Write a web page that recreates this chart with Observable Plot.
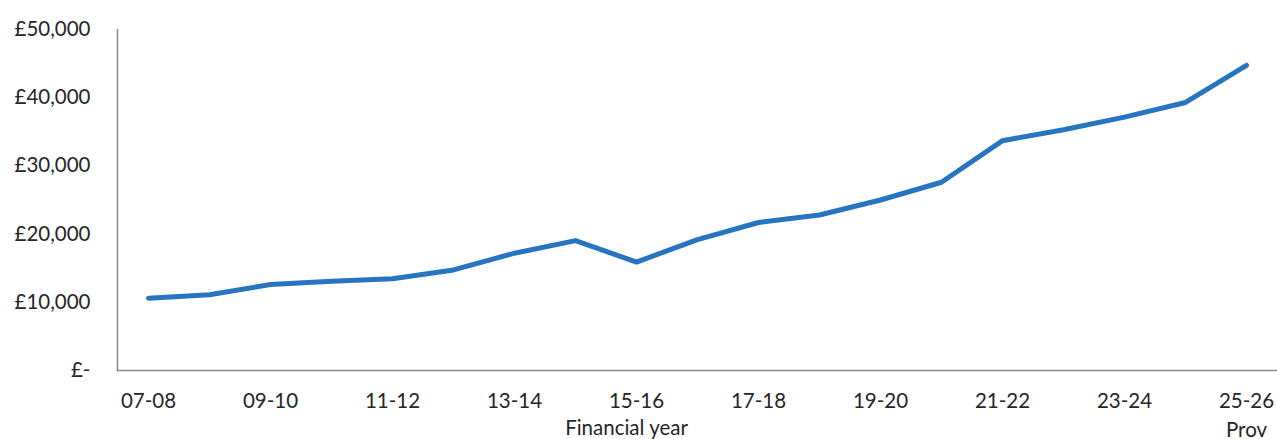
<!DOCTYPE html>
<html>
<head>
<meta charset="utf-8">
<script src="https://cdn.jsdelivr.net/npm/d3@7"></script>
<script src="https://cdn.jsdelivr.net/npm/@observablehq/plot@0.6"></script>
<style>
  body { margin: 0; background: #fff; }
</style>
</head>
<body>
<div id="chart"></div>
<script>
// Financial years and average value per year (£)
const years = ["07-08", "08-09", "09-10", "10-11", "11-12", "12-13", "13-14", "14-15", "15-16", "16-17",
               "17-18", "18-19", "19-20", "20-21", "21-22", "22-23", "23-24", "24-25", "25-26"];
const values = [10600, 11100, 12600, 13100, 13450, 14750, 17200, 19050, 15900, 19200,
                21700, 22800, 25000, 27600, 33700, 35300, 37150, 39300, 44750];

// Axis ticks and labels
const yTicks = [0, 10000, 20000, 30000, 40000, 50000];
const xTickYears = years.filter((d, i) => i % 2 === 0);
const provisionalYear = "25-26";
const provisionalNote = "Prov";
const xTitle = "Financial year";

const data = years.map((year, i) => ({year, value: values[i]}));
const thousands = d3.format(",");
const axisGrey = "#898989";

const chart = Plot.plot({
  width: 1277,
  height: 439,
  marginLeft: 117,
  marginRight: 0,
  marginTop: 29,
  marginBottom: 69,
  style: {fontFamily: "Lato, 'Open Sans', sans-serif", fontSize: "20.5px", color: "#262626", background: "#fff"},
  x: {type: "point", domain: years, padding: 0.5, label: null},
  y: {domain: [0, 50000], label: null},
  marks: [
    Plot.axisY({
      ticks: yTicks, tickSize: 0, tickPadding: 27, label: null,
      tickFormat: d => d === 0 ? "£-" : "£" + thousands(d)
    }),
    Plot.axisX({
      ticks: xTickYears, tickSize: 0, tickPadding: 16, label: null, lineHeight: 1.45,
      tickFormat: d => d === provisionalYear ? d + "\n" + provisionalNote : d
    }),
    Plot.frame({anchor: "left", stroke: axisGrey, strokeWidth: 1.5}),
    Plot.ruleY([0], {stroke: axisGrey, strokeWidth: 1.5}),
    Plot.lineY(data, {
      x: "year", y: "value", stroke: "#2775c1", strokeWidth: 5,
      strokeLinecap: "round", strokeLinejoin: "round"
    }),
    Plot.text([xTitle], {x: () => "15-16", frameAnchor: "bottom", dy: 64, dx: -10, text: d => d})
  ]
});

document.getElementById("chart").appendChild(chart);
</script>
</body>
</html>
